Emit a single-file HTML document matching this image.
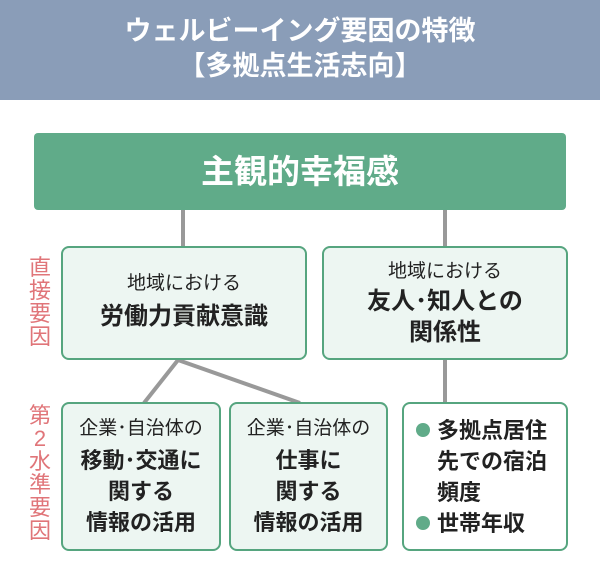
<!DOCTYPE html>
<html><head><meta charset="utf-8"><style>
body{margin:0;width:600px;height:582px;background:#fff;position:relative;overflow:hidden;font-family:"Liberation Sans","Noto Sans CJK JP",sans-serif;color:#222}
.hd{position:absolute;left:0;top:0;width:600px;height:100px;background:#8a9db8;color:#fff;font-weight:bold;font-size:27px;text-align:center;line-height:35px;padding-top:14px;box-sizing:border-box}
.top{position:absolute;left:34px;top:133px;width:532px;height:77px;background:#60ab89;border-radius:4px;color:#fff;font-weight:bold;font-size:33px;text-align:center;line-height:77px}
.b{position:absolute;box-sizing:border-box;border:2.5px solid #56a57f;border-radius:8px;background:#edf6f2;text-align:center;display:flex;flex-direction:column;justify-content:center}
.s{font-size:19px;line-height:28px}
.m{font-size:22px;font-weight:bold;line-height:31px}
.r{position:absolute;color:#e07579;font-size:22px;line-height:23px;width:26px;text-align:center}
.dot{display:inline-block;width:14px;height:14px;border-radius:50%;background:#60ab89;margin-right:7px;vertical-align:1px}
</style></head><body>
<div class="hd">ウェルビーイング要因の特徴<br>【多拠点生活志向】</div>
<svg width="600" height="582" style="position:absolute;left:0;top:0">
<g stroke="#999" stroke-width="4" fill="none">
<line x1="183" y1="210" x2="183" y2="247"/>
<line x1="445" y1="210" x2="445" y2="247"/>
<line x1="445" y1="359" x2="445" y2="403"/>
<line x1="178" y1="360" x2="144" y2="403"/>
<line x1="178" y1="360" x2="300" y2="403"/>
</g></svg>
<div class="top">主観的幸福感</div>
<div class="r" style="left:27px;top:256px">直<br>接<br>要<br>因</div>
<div class="r" style="left:27px;top:404px">第<br>2<br>水<br>準<br>要<br>因</div>
<div class="b" style="left:61px;top:246px;width:246px;height:114px"><div class="s">地域における</div><div class="m" style="font-size:24px;line-height:38px">労働力貢献意識</div></div>
<div class="b" style="left:322px;top:246px;width:246px;height:114px"><div class="s">地域における</div><div class="m" style="font-size:24px;line-height:31px">友人･知人との<br>関係性</div></div>
<div class="b" style="left:61px;top:402px;width:160px;height:149px"><div class="s" style="margin-bottom:2px">企業･自治体の</div><div class="m">移動･交通に<br>関する<br>情報の活用</div></div>
<div class="b" style="left:229px;top:402px;width:159px;height:149px"><div class="s" style="margin-bottom:2px">企業･自治体の</div><div class="m">仕事に<br>関する<br>情報の活用</div></div>
<div class="b" style="left:402px;top:402px;width:166px;height:149px;background:#fff;text-align:left;padding-left:12px"><div class="m" style="line-height:31px"><span class="dot"></span>多拠点居住<br><span style="padding-left:21px">先での宿泊</span><br><span style="padding-left:21px">頻度</span><br><span class="dot"></span>世帯年収</div></div>
</body></html>
